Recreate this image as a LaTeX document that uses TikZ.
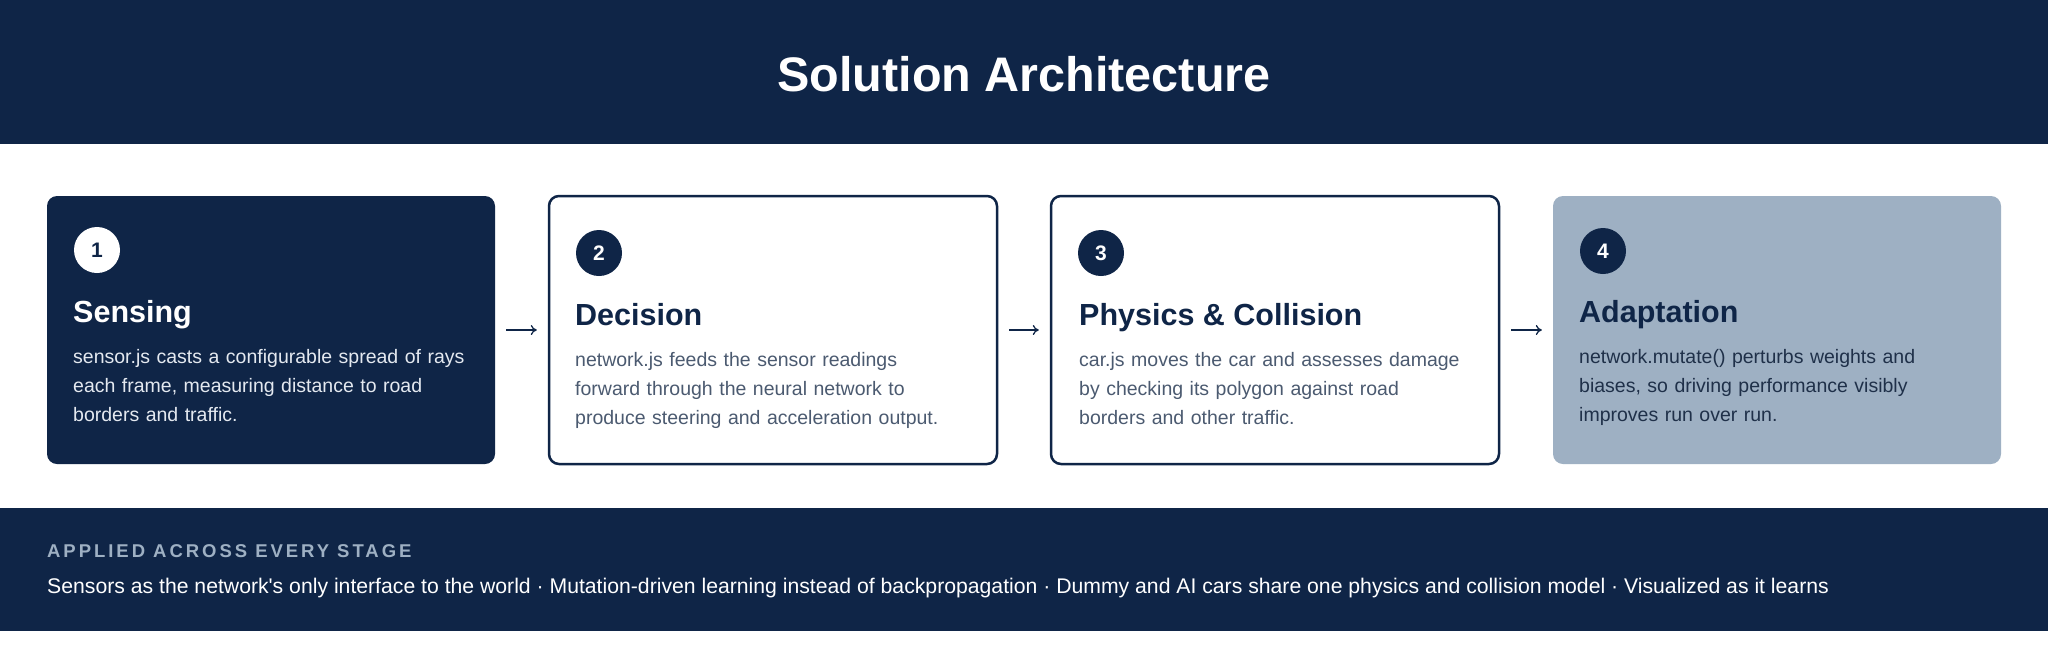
\documentclass[tikz,border=0pt]{standalone}
\usepackage{fontspec}
\setmainfont{Liberation Sans}[Ligatures=TeXOff]
\usetikzlibrary{arrows.meta,positioning}

\definecolor{navy}{HTML}{0F2547}
\definecolor{steel}{HTML}{9EB0C3}
\definecolor{slate}{HTML}{4B5A70}
\definecolor{mist}{HTML}{E4E9F0}
\definecolor{ink}{HTML}{1F3049}

\tikzset{
  card/.style={rounded corners=10pt, minimum width=448pt, minimum height=268pt, inner sep=0pt},
  badge/.style={circle, minimum size=46pt, inner sep=0pt, font=\fontsize{21}{21}\selectfont\bfseries},
  heading/.style={anchor=base west, inner sep=0pt, font=\fontsize{30.5}{30.5}\selectfont\bfseries},
  body/.style={anchor=base west, inner sep=0pt, align=left, text width=420pt, font=\fontsize{19.5}{29}\selectfont},
  flow/.style={-{To[length=6pt,width=10pt]}, navy, line width=1.3pt, shorten <=11pt, shorten >=11pt},
}

\begin{document}
\begin{tikzpicture}[x=1pt, y=-1pt]
    \useasboundingbox (0,0) rectangle (2048,649);
    \fill[white] (0,0) rectangle (2048,649);

    % header band
    \fill[navy] (0,0) rectangle (2048,144);
    \node[anchor=base, inner sep=0pt, white, font=\fontsize{48.5}{48.5}\selectfont\bfseries] (title) at (1024,91) {Solution Architecture};

    % stage cards
    \node[card, fill=navy] (sensing) at (271,330) {};
    \node[card, draw=navy, line width=2.5pt, fill=white] (decision) at (773,330) {};
    \node[card, draw=navy, line width=2.5pt, fill=white] (physics) at (1275,330) {};
    \node[card, fill=steel] (adapt) at (1777,330) {};

    \node[badge, fill=white, text=navy] (n1) at (97,250) {1};
    \node[badge, fill=navy, text=white] (n2) at (599,253) {2};
    \node[badge, fill=navy, text=white] (n3) at (1101,253) {3};
    \node[badge, fill=navy, text=white] (n4) at (1603,251) {4};

    \node[heading, white] (h1) at (73,322) {Sensing};
    \node[heading, navy] (h2) at (575,325) {Decision};
    \node[heading, navy] (h3) at (1079,325) {Physics \& Collision};
    \node[heading, navy] (h4) at (1579,322) {Adaptation};

    \node[body, mist] (b1) at (73,363) {sensor.js casts a configurable spread of rays\\each frame, measuring distance to road\\borders and traffic.};
    \node[body, slate] (b2) at (575,366) {network.js feeds the sensor readings\\forward through the neural network to\\produce steering and acceleration output.};
    \node[body, slate] (b3) at (1079,366) {car.js moves the car and assesses damage\\by checking its polygon against road\\borders and other traffic.};
    \node[body, ink] (b4) at (1579,363) {network.mutate() perturbs weights and\\biases, so driving performance visibly\\improves run over run.};

    % flow between stages
    \draw[flow] (sensing.east) -- (decision.west);
    \draw[flow] (decision.east) -- (physics.west);
    \draw[flow] (physics.east) -- (adapt.west);

    % footer band
    \fill[navy] (0,508) rectangle (2048,631);
    \node[anchor=base west, inner sep=0pt, steel, font=\fontsize{18.5}{18.5}\selectfont\bfseries\addfontfeature{LetterSpace=16}] (applied) at (47,557) {APPLIED ACROSS EVERY STAGE};
    \node[anchor=base west, inner sep=0pt, white, font=\fontsize{21.2}{21.2}\selectfont] (themes) at (47,593) {Sensors as the network's only interface to the world · Mutation-driven learning instead of backpropagation · Dummy and AI cars share one physics and collision model · Visualized as it learns};
\end{tikzpicture}
\end{document}
